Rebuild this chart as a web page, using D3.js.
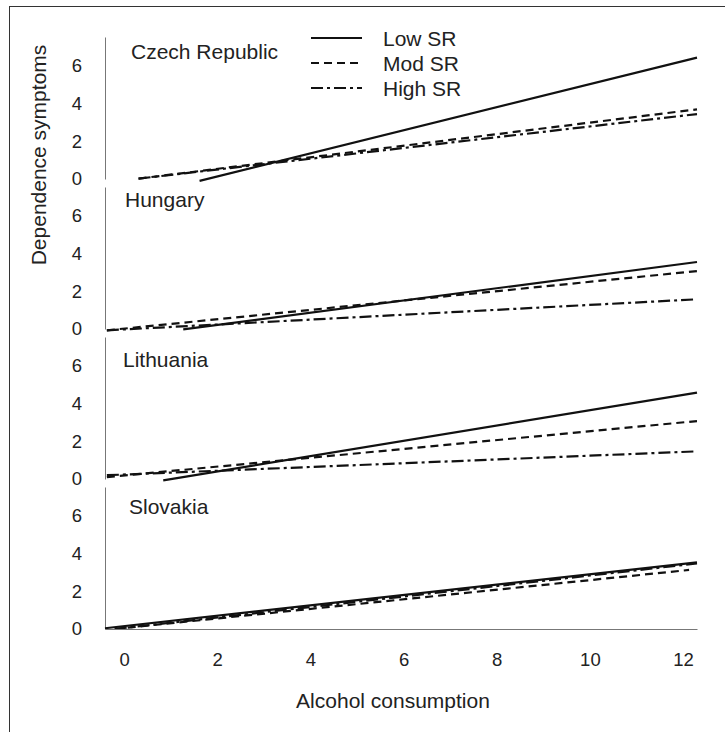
<!DOCTYPE html>
<html lang="en">
  <head>
    <meta charset="UTF-8" />
    <title>Dependence symptoms vs alcohol consumption</title>
    <script src="https://d3js.org/d3.v7.min.js"></script>
    <style>
      body { margin: 0; background: #fff; }
      text { font-family: "Liberation Sans", Arial, sans-serif; fill: #222; }
    </style>
  </head>
  <body>
    <svg id="chart" width="725" height="732"></svg>

    <script>
      // data: each line is [start, end] in (consumption, symptoms)
      const countries = ["Czech Republic", "Hungary", "Lithuania", "Slovakia"];
      const seriesNames = ["Low SR", "Mod SR", "High SR"];
      const xTicks = [0, 2, 4, 6, 8, 10, 12];
      const yTicks = [0, 2, 4, 6];

      const lowSR = [
        [[1.62, -0.1], [12.3, 6.41]],
        [[1.27, -0.02], [12.3, 3.54]],
        [[0.84, -0.07], [12.3, 4.56]],
        [[-0.41, 0.04], [12.3, 3.52]],
      ];
      const modSR = [
        [[0.31, 0.02], [12.3, 3.68]],
        [[-0.37, -0.07], [12.3, 3.06]],
        [[-0.37, 0.1], [12.3, 3.06]],
        [[-0.2, 0.0], [12.13, 3.12]],
      ];
      const highSR = [
        [[0.31, 0.02], [12.3, 3.43]],
        [[-0.37, -0.07], [12.3, 1.57]],
        [[-0.37, 0.2], [12.3, 1.46]],
        [[-0.2, 0.0], [12.3, 3.46]],
      ];

      const svg = d3.select("#chart");

      // frame
      svg.append("rect")
        .attr("x", 9.5).attr("y", 6.5)
        .attr("width", 800).attr("height", 800)
        .attr("fill", "none").attr("stroke", "#333");

      const x = d3.scaleLinear().domain([-0.41, 12.3]).range([105, 697]);
      const panel = d3.scaleBand().domain(countries).range([37, 629]).paddingInner(8 / 150);

      const dashes = { "Low SR": null, "Mod SR": "8,5", "High SR": "12,4,3,4" };
      const allSeries = [lowSR, modSR, highSR];

      // panel label nudges (px from panel top)
      const labelPos = {
        "Czech Republic": [131, 22],
        Hungary: [125, 20],
        Lithuania: [123, 30],
        Slovakia: [129, 27],
      };

      countries.forEach((c, i) => {
        const top = panel(c);
        const y = d3.scaleLinear().domain([0, 7.5]).range([top + panel.bandwidth(), top]);

        const ax = svg.append("g")
          .attr("transform", "translate(105,0)")
          .call(d3.axisLeft(y).tickValues(yTicks).tickSize(0).tickPadding(23));
        ax.select(".domain").attr("stroke", "#777");
        ax.selectAll("text").style("font-size", "18.5px")
          .style("font-family", '"Liberation Sans", Arial, sans-serif').attr("fill", "#222");

        svg.append("text")
          .attr("x", labelPos[c][0])
          .attr("y", top + labelPos[c][1])
          .style("font-size", "21px")
          .text(c);

        const line = d3.line().x((d) => x(d[0])).y((d) => y(d[1]));
        seriesNames.forEach((s, k) => {
          svg.append("path")
            .attr("d", line(allSeries[k][i]))
            .attr("fill", "none")
            .attr("stroke", "#111")
            .attr("stroke-width", 2.2)
            .attr("stroke-dasharray", dashes[s]);
        });
      });

      // x axis under the last panel
      const xa = svg.append("g")
        .attr("transform", "translate(0,629)")
        .call(d3.axisBottom(x).tickValues(xTicks).tickSize(0).tickPadding(24));
      xa.select(".domain").attr("stroke", "#777");
      xa.selectAll("text").style("font-size", "18.5px")
        .style("font-family", '"Liberation Sans", Arial, sans-serif').attr("fill", "#222");

      svg.append("text")
        .attr("x", 393).attr("y", 708)
        .attr("text-anchor", "middle")
        .style("font-size", "21px")
        .text("Alcohol consumption");

      svg.append("text")
        .attr("transform", "translate(46,155) rotate(-90)")
        .attr("text-anchor", "middle")
        .style("font-size", "21px")
        .text("Dependence symptoms");

      // legend
      const legend = svg.append("g");
      seriesNames.forEach((s, k) => {
        const ly = 38 + k * 25;
        legend.append("line")
          .attr("x1", 311).attr("x2", 362)
          .attr("y1", ly).attr("y2", ly)
          .attr("stroke", "#111").attr("stroke-width", 2.2)
          .attr("stroke-dasharray", dashes[s]);
        legend.append("text")
          .attr("x", 383).attr("y", ly + 7.5)
          .style("font-size", "21px")
          .text(s);
      });
    </script>
  </body>
</html>
